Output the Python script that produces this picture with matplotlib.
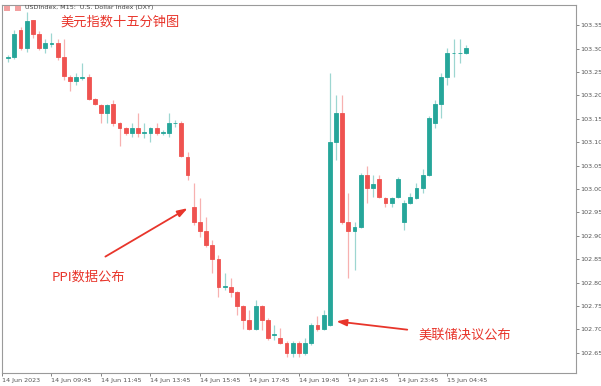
import matplotlib
matplotlib.use("Agg")
import matplotlib.pyplot as plt
from matplotlib.patches import Rectangle
import numpy as np

plt.rcParams['font.family'] = ['DejaVu Sans', 'Noto Sans CJK SC']

# OHLC of the 15-minute USDIndex candles
opens = [103.279, 103.282, 103.339, 103.301, 103.361, 103.331, 103.301, 103.309, 103.312, 103.282,
         103.239, 103.230, 103.238, 103.239, 103.192, 103.179, 103.162, 103.181, 103.141, 103.130,
         103.120, 103.130, 103.120, 103.120, 103.130, 103.120, 103.120, 103.141, 103.141, 103.068,
         102.962, 102.930, 102.910, 102.880, 102.851, 102.791, 102.791, 102.780, 102.750, 102.720,
         102.701, 102.750, 102.720, 102.688, 102.682, 102.671, 102.650, 102.671, 102.650, 102.671,
         102.710, 102.701, 102.710, 103.100, 103.162, 102.930, 102.910, 102.919, 103.030, 103.002,
         103.021, 102.981, 102.970, 102.983, 102.930, 102.970, 102.981, 103.002, 103.030, 103.141,
         103.181, 103.239, 103.290, 103.290, 103.290]
highs = [103.286, 103.339, 103.346, 103.378, 103.361, 103.337, 103.320, 103.333, 103.320, 103.320,
         103.243, 103.248, 103.269, 103.245, 103.194, 103.181, 103.181, 103.190, 103.143, 103.132,
         103.141, 103.162, 103.141, 103.132, 103.141, 103.126, 103.162, 103.147, 103.145, 103.079,
         103.013, 102.981, 102.940, 102.891, 102.859, 102.821, 102.810, 102.782, 102.752, 102.742,
         102.763, 102.752, 102.724, 102.710, 102.703, 102.675, 102.675, 102.675, 102.682, 102.714,
         102.729, 102.742, 103.248, 103.201, 103.201, 102.991, 102.930, 103.034, 103.049, 103.030,
         103.030, 102.983, 102.983, 103.026, 102.977, 102.991, 103.013, 103.043, 103.156, 103.190,
         103.248, 103.301, 103.320, 103.320, 103.307]
lows = [103.271, 103.278, 103.297, 103.292, 103.322, 103.297, 103.290, 103.303, 103.275, 103.233,
        103.209, 103.222, 103.233, 103.190, 103.179, 103.141, 103.141, 103.134, 103.092, 103.115,
        103.111, 103.111, 103.109, 103.100, 103.115, 103.115, 103.111, 103.132, 103.068, 103.019,
        102.923, 102.898, 102.876, 102.821, 102.770, 102.784, 102.770, 102.731, 102.701, 102.699,
        102.699, 102.699, 102.678, 102.678, 102.669, 102.641, 102.641, 102.641, 102.646, 102.667,
        102.697, 102.699, 102.708, 103.062, 102.925, 102.810, 102.827, 102.917, 102.970, 102.983,
        102.981, 102.962, 102.962, 102.981, 102.913, 102.968, 102.979, 102.991, 103.028, 103.130,
        103.152, 103.222, 103.239, 103.269, 103.288]
closes = [103.281, 103.331, 103.301, 103.359, 103.331, 103.301, 103.312, 103.311, 103.282, 103.241,
          103.230, 103.239, 103.239, 103.192, 103.181, 103.162, 103.179, 103.141, 103.130, 103.120,
          103.130, 103.120, 103.121, 103.130, 103.120, 103.121, 103.141, 103.142, 103.070, 103.030,
          102.930, 102.910, 102.880, 102.851, 102.791, 102.792, 102.780, 102.750, 102.720, 102.701,
          102.750, 102.720, 102.682, 102.690, 102.671, 102.650, 102.671, 102.650, 102.671, 102.710,
          102.701, 102.731, 103.100, 103.162, 102.930, 102.910, 102.919, 103.030, 103.002, 103.011,
          102.983, 102.970, 102.981, 103.021, 102.970, 102.983, 103.002, 103.030, 103.152, 103.181,
          103.239, 103.290, 103.291, 103.291, 103.301]

tick_positions = [-1, 7, 15, 23, 31, 39, 47, 55, 63, 71]
tick_labels = ["14 Jun 2023", "14 Jun 09:45", "14 Jun 11:45", "14 Jun 13:45", "14 Jun 15:45",
               "14 Jun 17:45", "14 Jun 19:45", "14 Jun 21:45", "14 Jun 23:45", "15 Jun 04:45"]
price_ticks = [102.65, 102.70, 102.75, 102.80, 102.85, 102.90, 102.95, 103.00,
               103.05, 103.10, 103.15, 103.20, 103.25, 103.30, 103.35]

title_text = "USDIndex, M15:  U.S. Dollar Index (DXY)"
note_title = "美元指数十五分钟图"
note_ppi = "PPI数据公布"
note_fed = "美联储决议公布"
ppi_idx = 30
fed_idx = 52

UP = "#26a69a"
DOWN = "#ef5350"
NOTE = "#e8352b"

o = np.array(opens); h = np.array(highs); l = np.array(lows); c = np.array(closes)
x = np.arange(len(o))
cols = [UP if cc >= oo else DOWN for oo, cc in zip(o, c)]

fig = plt.figure(figsize=(6.01, 3.86), dpi=100, facecolor="white")
ax = fig.add_axes([2/601, 13/386, 574/601, 368/386])
ax.set_xlim(-0.8, 91.8)
ax.set_ylim(102.607, 103.393)

ax.vlines(x, l, h, colors=cols, linewidth=0.9, alpha=0.45, zorder=2)
bottoms = np.minimum(o, c)
heights = np.abs(c - o)
ax.bar(x, heights, width=0.62, bottom=bottoms, color=cols, edgecolor=cols,
       linewidth=0.6, zorder=3)

ax.yaxis.tick_right()
ax.set_yticks(price_ticks)
ax.set_yticklabels([f"{v:.2f}" for v in price_ticks])
ax.set_xticks(tick_positions)
ax.set_xticklabels(tick_labels, ha="left")
ax.tick_params(axis="y", labelsize=4.6, colors="#555555", length=2, width=0.5, pad=1)
ax.tick_params(axis="x", labelsize=4.6, colors="#555555", length=2, width=0.5, pad=1.5)
for lab in ax.get_xticklabels():
    lab.set_horizontalalignment("left")
for s in ax.spines.values():
    s.set_color("#9a9a9a")
    s.set_linewidth(0.8)

# header
fig.patches.append(Rectangle((4/601, (386-11)/386), 6/601, 5/386, transform=fig.transFigure,
                             facecolor="#f2a0a0", edgecolor="none"))
fig.patches.append(Rectangle((15/601, (386-11)/386), 6/601, 5/386, transform=fig.transFigure,
                             facecolor="#f2a0a0", edgecolor="none"))
fig.text(25/601, (386-8)/386, title_text, fontsize=4.6, color="#444444", va="center", ha="left")

ax.text(60/601 * 601, 0, "", transform=ax.transData)
fig.text(60/601, (386-22)/386, note_title, fontsize=9.5, color=NOTE, va="center", ha="left",
         family=["Noto Sans CJK SC", "DejaVu Sans"])
fig.text(52/601, (386-277)/386, note_ppi, fontsize=9.5, color=NOTE, va="center", ha="left",
         family=["Noto Sans CJK SC", "DejaVu Sans"])
fig.text(418/601, (386-335)/386, note_fed, fontsize=9.5, color=NOTE, va="center", ha="left",
         family=["Noto Sans CJK SC", "DejaVu Sans"])

# arrows
ax.annotate("", xy=(ppi_idx - 0.6, o[ppi_idx]), xycoords="data",
            xytext=(103/601, (386-258)/386), textcoords="figure fraction",
            arrowprops=dict(arrowstyle="-|>,head_length=0.6,head_width=0.2", color=NOTE, lw=1.3))
ax.annotate("", xy=(fed_idx + 0.6, o[fed_idx] + 0.008), xycoords="data",
            xytext=(410/601, (386-330)/386), textcoords="figure fraction",
            arrowprops=dict(arrowstyle="-|>,head_length=0.6,head_width=0.2", color=NOTE, lw=1.3))

fig.savefig("out.png", dpi=100, facecolor="white")
